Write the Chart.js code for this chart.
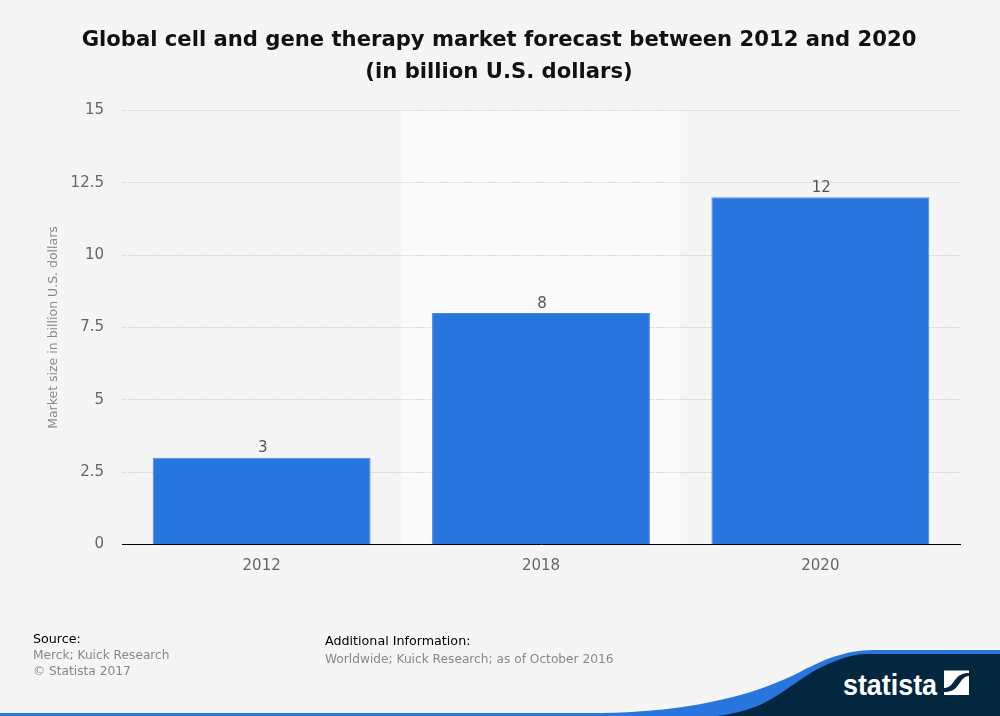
<!DOCTYPE html>
<html><head><meta charset="utf-8">
<script src="https://cdn.jsdelivr.net/npm/chart.js@4"></script>
<style>
html,body{margin:0;padding:0;background:#f5f5f5;width:1000px;height:716px;overflow:hidden;font-family:"DejaVu Sans",sans-serif}
#c{position:absolute;left:0;top:0}
.t{position:absolute;white-space:nowrap;line-height:16px}
.h{color:#000;font-size:12.7px}.g{color:#888;font-size:12.2px}
svg{position:absolute;left:0;top:0}
</style></head><body>
<svg width="1000" height="716" viewBox="0 0 1000 716">
<path fill="#2875de" d="M0 713H600C640 713 690 708 733 697C760 690 782 681 800 672C815 664 828 658 840 655C852 651 865 650 877 650H1000V716H0Z"/>
<path fill="#03273f" d="M717 716C733 714 748 710 760 705C775 698 788 688 800 680C812 672 822 666 833 662C845 657 856 654 867 654H1000V716Z"/>
<text x="843" y="694.5" fill="#fff" font-family="Liberation Sans Narrow, Liberation Sans" font-weight="700" font-size="29" textLength="94" lengthAdjust="spacingAndGlyphs">statista</text>
<path fill="#fff" d="M944 670.5H969V673C962 673 959 675 955 680C951 686 948 688 944 688Z"/>
<path fill="#fff" d="M969 676V695H944V692C951 692 955 690 959 684C962 679 965 676 969 676Z"/>
</svg>
<canvas id="c" width="1000" height="716"></canvas>
<div class="t h" style="left:33px;top:631px">Source:</div>
<div class="t g" style="left:33px;top:647px">Merck; Kuick Research</div>
<div class="t g" style="left:33px;top:663px">© Statista 2017</div>
<div class="t h" style="left:325px;top:633px">Additional Information:</div>
<div class="t g" style="left:325px;top:651px">Worldwide; Kuick Research; as of October 2016</div>
<script>
const categories = ['2012','2018','2020'];
const marketSize = [3,8,12];
const yTicks = [0,2.5,5,7.5,10,12.5,15];
const titleLines = ['Global cell and gene therapy market forecast between 2012 and 2020','(in billion U.S. dollars)'];
const yAxisTitle = 'Market size in billion U.S. dollars';
const FONT = '"DejaVu Sans", sans-serif';

const bandPlugin = {
  id:'band',
  beforeDraw(chart){
    const {ctx,chartArea:a,scales:{x}} = chart;
    const w = x.width/categories.length, cx = x.getPixelForValue(1);
    ctx.save(); ctx.fillStyle='#fafafa';
    ctx.fillRect(cx-w/2,a.top,w,a.bottom-a.top);
    ctx.restore();
  }
};
const labelPlugin = {
  id:'vals',
  afterDatasetsDraw(chart){
    const {ctx} = chart;
    ctx.save();
    ctx.font='15px '+FONT; ctx.fillStyle='#555'; ctx.textAlign='center'; ctx.textBaseline='alphabetic';
    chart.getDatasetMeta(0).data.forEach((b,i)=>ctx.fillText(String(marketSize[i]),b.x+1,b.y-5.5));
    ctx.restore();
  }
};
new Chart(document.getElementById('c'),{
  type:'bar',
  data:{labels:categories,datasets:[{data:marketSize,backgroundColor:'#2875de',borderColor:'#4a8ae6',borderWidth:1,categoryPercentage:0.78,barPercentage:1}]},
  plugins:[bandPlugin,labelPlugin],
  options:{
    responsive:false,animation:false,devicePixelRatio:1,
    layout:{padding:{left:38,right:40,top:0,bottom:129.4}},
    plugins:{
      legend:{display:false},tooltip:{enabled:false},
      title:{display:true,text:titleLines,color:'#111',font:{family:FONT,size:21.15,weight:'bold',lineHeight:1.52},padding:{top:24.2,bottom:21.9}}
    },
    scales:{
      x:{
        grid:{display:false},border:{color:'#000',width:1,z:1},
        ticks:{color:'#666',font:{family:FONT,size:15},padding:4.5,maxRotation:0},
        afterFit(s){s.height=42;}
      },
      y:{
        min:0,max:15,
        afterBuildTicks(s){s.ticks=yTicks.map(v=>({value:v}));},
        grid:{color:'#d8d8d8',lineWidth:1,drawTicks:false},
        border:{display:false,dash:[2,1]},
        ticks:{color:'#666',font:{family:FONT,size:15},padding:18,callback:v=>String(v)},
        title:{display:true,text:yAxisTitle,color:'#888',font:{family:FONT,size:12.5},padding:{top:8,bottom:0}},
        afterFit(s){s.width=84;}
      }
    }
  }
});
</script>
</body></html>
